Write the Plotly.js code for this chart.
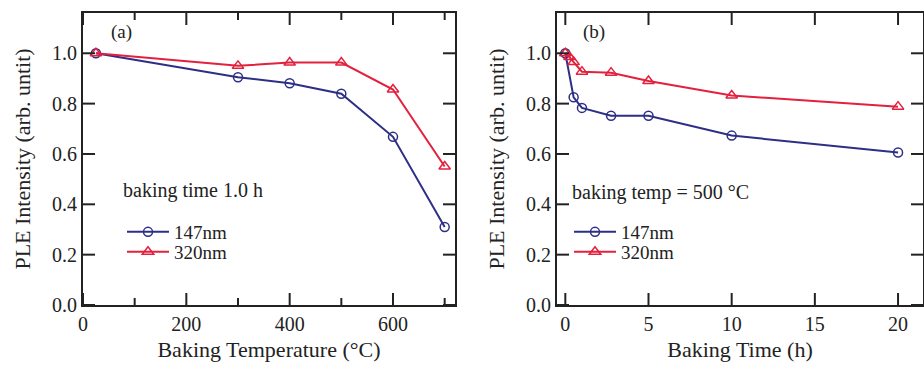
<!DOCTYPE html>
<html>
<head>
<meta charset="utf-8">
<script src="https://cdn.plot.ly/plotly-3.0.1.min.js"></script>
<style>html,body{margin:0;padding:0;background:#fff;}#chart{width:924px;height:367px;}</style>
</head>
<body>
<div id="chart"></div>
<script>
// Panel (a): baking temperature series (baking time 1.0 h)
const tempC = [25, 300, 400, 500, 600, 700];
const tempPle147 = [1.0, 0.905, 0.881, 0.839, 0.668, 0.31];
const tempPle320 = [1.0, 0.95, 0.963, 0.963, 0.856, 0.55];

// Panel (b): baking time series (baking temp = 500 °C)
const time147 = [0, 0.5, 1, 2.75, 5, 10, 20];
const timePle147 = [1.0, 0.825, 0.783, 0.752, 0.752, 0.673, 0.606];
const time320 = [0, 0.25, 0.5, 1, 2.75, 5, 10, 20];
const timePle320 = [1.0, 0.985, 0.965, 0.927, 0.923, 0.89, 0.832, 0.788];

const seriesNames = ['147nm', '320nm'];
const xTickVals_a = [0, 200, 400, 600];
const xMinorVals_a = [100, 300, 500, 700];
const xTickVals_b = [0, 5, 10, 15, 20];
const yTickVals = [0.0, 0.2, 0.4, 0.6, 0.8, 1.0];

const BLUE = '#2c2f85';
const RED = '#e3203d';
const INK = '#222222';
const FONT = 'Liberation Serif, Times New Roman, serif';

const W = 924, H = 367;
const ML = 83, MR = 1, MT = 13, MB = 62;
const PW = W - ML - MR, PH = H - MT - MB;
const fx = v => (v - ML) / PW;
const fy = v => 1 - (v - MT) / PH;

const circ = {symbol: 'circle-open', size: 9, color: BLUE, line: {width: 1.5, color: BLUE}};
const tri = {symbol: 'triangle-up-open', size: 10, color: RED, line: {width: 1.5, color: RED}};

const traces = [
  {x: tempC, y: tempPle147, name: seriesNames[0], mode: 'lines+markers', line: {color: BLUE, width: 2}, marker: circ, xaxis: 'x', yaxis: 'y', legend: 'legend'},
  {x: tempC, y: tempPle320, name: seriesNames[1], mode: 'lines+markers', line: {color: RED, width: 2}, marker: tri, xaxis: 'x', yaxis: 'y', legend: 'legend2'},
  {x: time147, y: timePle147, name: seriesNames[0], mode: 'lines+markers', line: {color: BLUE, width: 2}, marker: circ, xaxis: 'x2', yaxis: 'y2', legend: 'legend3'},
  {x: time320, y: timePle320, name: seriesNames[1], mode: 'lines+markers', line: {color: RED, width: 2}, marker: tri, xaxis: 'x2', yaxis: 'y2', legend: 'legend4'}
];

const axisCommon = {
  showline: true, linewidth: 2, linecolor: INK, mirror: true,
  ticks: '', showgrid: false, zeroline: false, automargin: false,
  tickfont: {family: FONT, size: 20, color: INK}
};
const linTicks = vals => ({tickmode: 'linear', tick0: vals[0], dtick: vals[1] - vals[0]});

// inward tick marks on all four sides, placed through the axes' own scales
function xTicks(xa, ya, vals, len) {
  const out = [];
  vals.forEach(v => {
    [[0, len], [1, -len]].forEach(([anc, l]) => out.push({
      type: 'line', xref: xa, yref: ya + ' domain', x0: v, x1: v,
      ysizemode: 'pixel', yanchor: anc, y0: 0, y1: l,
      line: {color: INK, width: 2}, layer: 'above'
    }));
  });
  return out;
}
function yTicks(xa, ya, vals, len) {
  const out = [];
  vals.forEach(v => {
    [[0, len], [1, -len]].forEach(([anc, l]) => out.push({
      type: 'line', xref: xa + ' domain', yref: ya, y0: v, y1: v,
      xsizemode: 'pixel', xanchor: anc, x0: 0, x1: l,
      line: {color: INK, width: 2}, layer: 'above'
    }));
  });
  return out;
}
const tickShapes = [].concat(
  xTicks('x', 'y', xTickVals_a, 12),
  xTicks('x', 'y', xMinorVals_a, 7),
  yTicks('x', 'y', yTickVals, 12),
  xTicks('x2', 'y2', xTickVals_b, 12),
  yTicks('x2', 'y2', yTickVals, 12)
);

function leg(x, yTop) {
  return {
    x: fx(x), y: fy(yTop), xanchor: 'left', yanchor: 'top',
    bgcolor: 'rgba(0,0,0,0)', borderwidth: 0,
    font: {family: FONT, size: 19, color: INK},
    tracegroupgap: 0, itemwidth: 42
  };
}
function note(text, x, y, size) {
  return {text: text, x: fx(x), y: fy(y), xref: 'paper', yref: 'paper', xanchor: 'left', yanchor: 'middle',
          showarrow: false, font: {family: FONT, size: size, color: INK}};
}

const layout = {
  width: W, height: H,
  margin: {l: ML, r: MR, t: MT, b: MB, autoexpand: false},
  paper_bgcolor: '#fff', plot_bgcolor: '#fff',
  showlegend: true,
  xaxis: Object.assign({}, axisCommon, linTicks(xTickVals_a), {
    domain: [0, fx(455)], range: [0, 720],
    title: {text: 'Baking Temperature (°C)', font: {family: FONT, size: 22, color: INK}, standoff: 8},
    anchor: 'y'
  }),
  yaxis: Object.assign({}, axisCommon, linTicks(yTickVals), {
    domain: [0, 1], range: [0, 1.16], tickformat: '.1f',
    title: {text: 'PLE Intensity (arb. untit)', font: {family: FONT, size: 22, color: INK}, standoff: 15},
    anchor: 'x'
  }),
  xaxis2: Object.assign({}, axisCommon, linTicks(xTickVals_b), {
    domain: [fx(557), 1], range: [-0.5, 21.5],
    title: {text: 'Baking Time (h)', font: {family: FONT, size: 22, color: INK}, standoff: 8},
    anchor: 'y2'
  }),
  yaxis2: Object.assign({}, axisCommon, linTicks(yTickVals), {
    domain: [0, 1], range: [0, 1.16], tickformat: '.1f',
    title: {text: 'PLE Intensity (arb. untit)', font: {family: FONT, size: 22, color: INK}, standoff: 15},
    anchor: 'x2'
  }),
  legend: leg(122, 213),
  legend2: leg(122, 233),
  legend3: leg(569, 213),
  legend4: leg(569, 233),
  shapes: tickShapes,
  annotations: [
    note('(a)', 109, 32, 19),
    note('(b)', 581, 32, 19),
    note('baking time 1.0 h', 121, 190, 20),
    note('baking temp = 500 °C', 570, 192, 20)
  ]
};

Plotly.newPlot('chart', traces, layout, {displayModeBar: false, staticPlot: true});
</script>
</body>
</html>
